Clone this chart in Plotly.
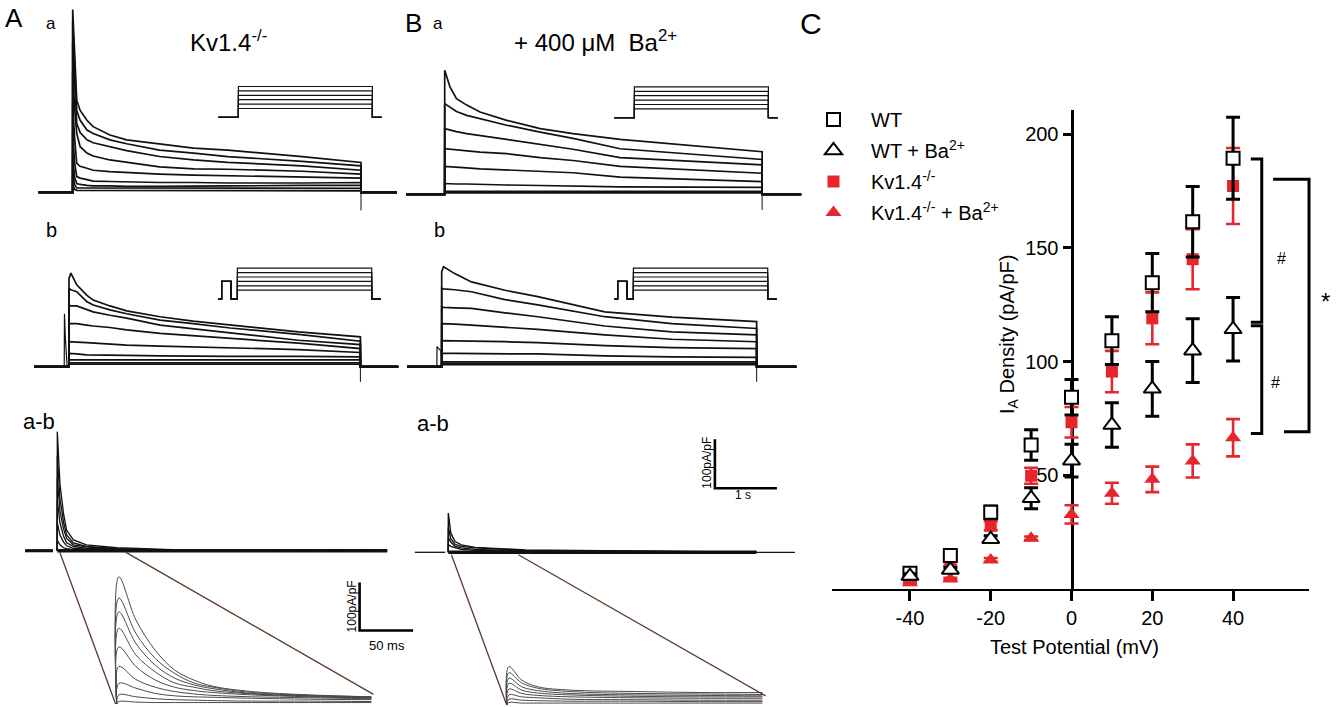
import plotly.graph_objects as go

W, H = 1343, 707
FONT = "Liberation Sans, Arial, Helvetica, sans-serif"
RED = "#E5262C"
INK = "#111111"
GREY = "#4a4a4a"
BROWN = "#5a3a2a"

# ---------------- Panel C : I_A density vs test potential ----------------
test_potential_mv = [-40, -30, -20, -10, 0, 10, 20, 30, 40]
wt_density = [6.9, 14.7, 33.7, 63.3, 84.3, 109.2, 134.7, 161.5, 189.4]
wt_sem = [1.0, 1.5, 2.8, 6.7, 7.8, 10.5, 12.8, 15.5, 18.0]
wt_ba_density = [5.7, 8.4, 21.9, 39.9, 56.4, 72.1, 88.0, 104.8, 114.2]
wt_ba_sem = [1.0, 1.0, 1.5, 4.6, 7.2, 9.8, 12.0, 14.0, 14.0]
kv14_density = [6.2, 11.3, 27.8, 49.8, 73.3, 95.6, 119.0, 145.0, 177.2]
kv14_sem = [1.0, 1.0, 2.0, 3.5, 6.7, 9.1, 11.4, 13.2, 16.7]
kv14_ba_density = [2.8, 4.4, 12.8, 22.3, 32.8, 42.1, 48.2, 56.3, 66.5]
kv14_ba_sem = [0.5, 0.5, 0.8, 0.8, 4.0, 4.6, 5.6, 7.3, 8.2]
x_tick_vals = [-40, -20, 0, 20, 40]
x_tick_text = ["-40", "-20", "0", "20", "40"]
y_tick_vals = [50, 100, 150, 200]

# ---------------- Current traces (time in s, current in pA/pF) ----------------
# A a : Kv1.4-/- , total outward current
aa_time = [0, 0.03, 0.065, 0.12, 0.23, 0.33, 0.6, 0.87, 1.4, 1.95, 2.5, 3.7, 4.65]
aa_current = [
    [373, 286, 188, 167, 147, 134, 117, 107, 99, 90, 86, 73, 61],
    [347, 255, 167, 147, 127, 120, 107, 99, 86, 80, 73, 63, 54],
    [306, 214, 141, 122, 107, 101, 93, 85, 73, 66, 61, 54, 45],
    [245, 173, 120, 93, 80, 74, 66, 61, 52, 48, 47, 43, 37],
    [184, 112, 59, 53, 49, 45, 42, 40, 37, 35, 34, 32, 29],
    [122, 61, 32, 29, 26, 23, 22, 21, 20, 20, 19, 19, 20],
    [71, 31, 18, 16, 14, 13, 13, 12, 12, 12, 13, 14, 14],
    [37, 16, 9, 9, 8, 8, 8, 8, 8, 8, 9, 9, 8],
    [16, 6, 4, 4, 3, 3, 3, 3, 3, 3, 4, 3, 3],
]
# A b : after inactivating prepulse
ab_time = [0, 0.03, 0.125, 0.285, 0.39, 0.66, 0.93, 1.47, 2.0, 2.6, 3.7, 4.7]
ab_current = [
    [180, 191, 167, 146, 136, 124, 114, 102, 93, 85, 71, 61],
    [160, 157, 153, 133, 126, 116, 108, 95, 88, 79, 66, 52],
    [126, 124, 124, 116, 112, 105, 99, 85, 78, 69, 54, 45],
    [88, 88, 88, 85, 83, 80, 75, 68, 63, 58, 48, 37],
    [51, 51, 50, 49, 48, 46, 44, 42, 40, 39, 35, 29],
    [27, 27, 26, 24, 24, 23, 23, 22, 21, 21, 21, 20],
    [14, 14, 14, 14, 14, 14, 14, 14, 14, 15, 14, 14],
    [8, 8, 8, 8, 8, 8, 8, 8, 8, 8, 8, 8],
    [5, 5, 5, 5, 5, 5, 5, 5, 5, 5, 5, 5],
]
ab_prepulse_time = [-0.077, -0.073, -0.06, -0.045, -0.03]
ab_prepulse_current = [0, 108, 61, 20, 0]
# A a-b : subtracted transient current
aab_time = [0, 0.043, 0.1, 0.15, 0.26, 0.47, 0.96, 1.86, 5.32]
aab_current = [
    [243, 136, 76, 42, 22, 12, 6, 2, 0],
    [194, 106, 59, 32, 16, 9, 4, 1, 0],
    [147, 81, 45, 25, 12, 8, 3, 1, 0],
    [102, 57, 30, 16, 9, 5, 2, 1, 0],
    [57, 32, 18, 10, 5, 3, 2, 0, 0],
    [21, 12, 6, 4, 2, 1, 1, 0, 0],
]
# A inset (time in ms)
ains_time_ms = [0, 2, 18, 36, 54, 72, 90, 126, 180, 238]
ains_current = [
    [0, 265, 175, 112, 71, 50, 37, 26, 19, 15],
    [0, 221, 147, 95, 64, 44, 35, 24, 18, 15],
    [0, 192, 126, 81, 54, 40, 32, 22, 17, 14],
    [0, 158, 102, 67, 44, 35, 28, 21, 16, 13],
    [0, 119, 78, 50, 35, 28, 24, 19, 15, 12],
    [0, 78, 51, 35, 26, 21, 18, 15, 13, 11],
    [0, 43, 33, 22, 17, 15, 14, 12, 10, 9],
    [0, 19, 15, 11, 9, 8, 7, 6, 6, 5],
    [0, 5, 4, 3, 3, 3, 3, 3, 3, 3],
]
# B a : + 400 uM Ba2+
ba_time = [0, 0.085, 0.19, 0.355, 0.57, 1.0, 1.54, 2.07, 2.83, 5.12]
ba_current = [
    [253, 219, 195, 182, 168, 151, 134, 124, 112, 87],
    [185, 178, 169, 161, 154, 141, 127, 114, 93, 71],
    [134, 131, 128, 124, 120, 112, 102, 92, 75, 60],
    [93, 92, 90, 88, 86, 83, 75, 69, 57, 43],
    [57, 56, 55, 54, 52, 50, 47, 44, 35, 26],
    [22, 21, 21, 21, 20, 19, 18, 17, 15, 14],
    [6, 6, 6, 6, 6, 6, 6, 6, 6, 6],
    [3, 3, 3, 3, 3, 3, 3, 3, 3, 3],
]
# B b
bb_time = [0, 0.03, 0.21, 0.48, 1.02, 1.55, 2.63, 3.71, 5.08]
bb_current = [
    [194, 204, 190, 173, 156, 143, 112, 101, 92],
    [160, 159, 157, 153, 137, 126, 102, 88, 78],
    [122, 121, 120, 119, 110, 102, 83, 71, 65],
    [88, 88, 87, 85, 81, 76, 65, 56, 51],
    [53, 53, 53, 52, 51, 49, 43, 39, 37],
    [26, 27, 27, 27, 27, 26, 22, 20, 19],
    [10, 10, 10, 10, 10, 10, 10, 10, 10],
    [7, 7, 7, 7, 7, 7, 7, 7, 7],
    [4, 4, 4, 4, 4, 4, 4, 4, 4],
]
bb_prepulse_time = [-0.078, -0.076, -0.04, -0.01, 0]
bb_prepulse_current = [0, 41, 36, 32, 0]
# B a-b
bab_time = [0, 0.04, 0.11, 0.21, 0.43, 1.24, 4.97]
bab_current = [
    [80, 39, 22, 15, 10, 5, 0],
    [51, 28, 16, 12, 9, 4, 0],
    [30, 21, 12, 9, 6, 3, 0],
    [16, 12, 9, 6, 4, 2, 0],
]
# B inset (time in ms)
bins_time_ms = [0, 2, 14, 29, 60, 121, 180, 239]
bins_current = [
    [0, 80, 52, 38, 31, 28, 26, 26],
    [0, 67, 46, 35, 28, 24, 23, 22],
    [0, 56, 38, 30, 24, 21, 20, 19],
    [0, 45, 31, 25, 21, 18, 17, 17],
    [0, 33, 24, 20, 17, 15, 14, 14],
    [0, 21, 17, 15, 12, 11, 10, 10],
    [0, 12, 10, 9, 8, 8, 7, 7],
    [0, 5, 4, 4, 4, 4, 4, 4],
]
end_artifact = [-37, -31, -32, -31]  # Aa, Ab, Ba, Bb tail artefact (pA/pF)

# ---------------- Voltage protocols (time in s, mV) ----------------
holding_mv = -80
prepulse_mv = -40
step_mv = [-60, -50, -40, -30, -20, -10]
protocol_a_time = [0, 0.6, 0.6, 4.6, 4.6, 4.88]
protocol_b_time = [0, 0.1, 0.1, 0.38, 0.38, 0.57, 0.57, 4.58, 4.58, 4.85]

# =====================================================================
fig = go.Figure()
layout_axes = {}


def fx(px):
    return px / W


def fy(py):
    return 1 - py / H


class Panel:
    def __init__(self, idx, box, origin, sx, sy):
        x0, x1, y0, y1 = box
        self.ox, self.oy = origin
        self.sx, self.sy = sx, sy
        self.xref = "x" if idx == 1 else f"x{idx}"
        self.yref = "y" if idx == 1 else f"y{idx}"
        xa = "xaxis" if idx == 1 else f"xaxis{idx}"
        ya = "yaxis" if idx == 1 else f"yaxis{idx}"
        layout_axes[xa] = dict(domain=[fx(x0), fx(x1)],
                               range=[(x0 - self.ox) / sx, (x1 - self.ox) / sx],
                               visible=False, fixedrange=True, anchor=self.yref)
        layout_axes[ya] = dict(domain=[fy(y1), fy(y0)],
                               range=[(self.oy - y1) / sy, (self.oy - y0) / sy],
                               visible=False, fixedrange=True, anchor=self.xref)

    def px(self, t):
        return self.ox + t * self.sx

    def py(self, v):
        return self.oy - v * self.sy

    def line(self, x, y, width=1.6, color=INK, shape="linear"):
        fig.add_trace(go.Scatter(x=x, y=y, xaxis=self.xref, yaxis=self.yref,
                                 mode="lines",
                                 line=dict(color=color, width=width, shape=shape),
                                 showlegend=False, hoverinfo="skip"))


S_PER = 62.0      # px per second
I_PER = 0.49      # px per pA/pF
MS_PER = 1.07     # inset px per ms
I_INS = 0.48      # inset px per pA/pF

pAa = Panel(2, (20, 405, 0, 212), (72.7, 192.3), S_PER, I_PER)
pAb = Panel(3, (20, 405, 212, 392), (69, 366.7), S_PER, I_PER)
pAab = Panel(4, (10, 405, 395, 565), (57.3, 550.7), S_PER, I_PER)
pAin = Panel(5, (100, 420, 560, 707), (116.7, 704), MS_PER, I_INS)
pBa = Panel(6, (400, 805, 0, 212), (444.7, 194.3), S_PER, I_PER)
pBb = Panel(7, (400, 805, 212, 392), (441.7, 366.7), S_PER, I_PER)
pBab = Panel(8, (400, 805, 395, 565), (448.3, 552.3), S_PER, I_PER)
pBin = Panel(9, (480, 805, 560, 707), (506.7, 705), MS_PER, I_INS)
V_PER = 0.44
pPAa = Panel(10, (205, 395, 70, 125), (218.3, 117.3 + holding_mv * V_PER), 33.5, V_PER)
pPAb = Panel(11, (205, 395, 255, 305), (218.3, 299 + holding_mv * V_PER), 33.5, V_PER)
pPBa = Panel(12, (600, 790, 70, 125), (614.3, 117.7 + holding_mv * V_PER), 33.5, V_PER)
pPBb = Panel(13, (600, 790, 255, 305), (614.3, 299 + holding_mv * V_PER), 33.5, V_PER)


def family(p, times, fam, t_pre, t_post, art, width=1.7):
    for vals in fam:
        p.line([t_pre, 0] + times + [times[-1], t_post], [0, 0] + vals + [0, 0], width)
    p.line([times[-1], times[-1]], [0, art], 1.0)


family(pAa, aa_time, aa_current, -0.55, 5.23, end_artifact[0])
family(pAb, ab_time, ab_current, -0.56, 5.31, end_artifact[1])
pAb.line(ab_prepulse_time, ab_prepulse_current, 1.2)
family(pBa, ba_time, ba_current, -0.62, 5.75, end_artifact[2])
family(pBb, bb_time, bb_current, -0.56, 5.72, end_artifact[3])
pBb.line(bb_prepulse_time, bb_prepulse_current, 1.2)

# a-b traces
pAab.line([-0.52, -0.07], [0, 0], 3.2)
pAab.line([0, aab_time[-1]], [0, 0], 3.6)
for vals in aab_current:
    pAab.line([0] + aab_time, [0] + vals, 1.3)
pBab.line([-0.54, -0.05], [0, 0], 1.3)
pBab.line([bab_time[-1], 5.59], [0, 0], 1.3)
pBab.line([0, bab_time[-1]], [0, 0], 3.4)
for vals in bab_current:
    pBab.line([0] + bab_time, [0] + vals, 1.4)

# insets
for vals in ains_current:
    pAin.line(ains_time_ms, vals, 1.0, GREY, "spline")
for vals in bins_current:
    pBin.line(bins_time_ms, vals, 1.0, GREY, "spline")

# voltage protocols
for p in (pPAa, pPBa):
    for v in step_mv:
        p.line(protocol_a_time, [holding_mv, holding_mv, v, v, holding_mv, holding_mv], 1.2)
for p in (pPAb, pPBb):
    for v in step_mv:
        p.line(protocol_b_time,
               [holding_mv, holding_mv, prepulse_mv, prepulse_mv, holding_mv,
                holding_mv, v, v, holding_mv, holding_mv], 1.2)

# scale bars
pAin.line([227, 227, 277], [253, 153, 153], 2.6, "black")
pBab.line([4.3, 4.3, 5.3], [230.6, 130.6, 130.6], 2.6, "black")

shapes = []
# zoom connector lines (from a-b trace to the expanded inset)
for (pa, ta, va), (pb, tb, vb) in [
    ((pAab, 0.04, -3), (pAin, -1, 0)),
    ((pAab, 1.10, -3), (pAin, 240, 20)),
    ((pBab, 0.05, -5), (pBin, 0, 0)),
    ((pBab, 1.13, -5), (pBin, 242, 19)),
]:
    shapes.append(dict(type="line", xref="paper", yref="paper",
                       x0=fx(pa.px(ta)), y0=fy(pa.py(va)),
                       x1=fx(pb.px(tb)), y1=fy(pb.py(vb)),
                       line=dict(color=BROWN, width=1.3)))

# ---------------- Panel C ----------------
C_X0, C_X1, C_YB, C_YT = 832, 1309, 589, 110
c_xrange = [-59.3, 58.8]
c_yrange = [0, 210.6]


def cpx(x):
    return C_X0 + (x - c_xrange[0]) / (c_xrange[1] - c_xrange[0]) * (C_X1 - C_X0)


def cpy(y):
    return C_YB - (y - c_yrange[0]) / (c_yrange[1] - c_yrange[0]) * (C_YB - C_YT)


# drawn red first so the black series sit on top; legend order via legendrank
series = [
    ("Kv1.4<sup>-/-</sup>", kv14_density, kv14_sem, "square", 12, RED, RED, RED, 3),
    ("Kv1.4<sup>-/-</sup> + Ba<sup>2+</sup>", kv14_ba_density, kv14_ba_sem, "triangle-up", 14, RED, RED, RED, 4),
    ("WT", wt_density, wt_sem, "square", 13, "white", "black", "black", 1),
    ("WT + Ba<sup>2+</sup>", wt_ba_density, wt_ba_sem, "triangle-up", 15, "white", "black", "black", 2),
]
for name, ys, es, sym, size, fill, edge, ecol, rank in series:
    fig.add_trace(go.Scatter(
        x=test_potential_mv, y=ys, name=name, mode="markers",
        marker=dict(symbol=sym, size=size, color=fill,
                    line=dict(color=edge, width=2 if fill == "white" else 0)),
        error_y=dict(type="data", array=es, color=ecol,
                     thickness=3 if ecol == "black" else 2.6, width=7),
        cliponaxis=False, legendgroup=name, legendrank=rank,
        hoverinfo="skip"))

layout_axes["xaxis"] = dict(
    domain=[fx(C_X0), fx(C_X1)], range=c_xrange, anchor="y",
    showline=True, linecolor="black", linewidth=2, showgrid=False, zeroline=False,
    tickmode="array", tickvals=x_tick_vals, ticktext=x_tick_text,
    ticks="outside", ticklen=10, tickwidth=3,
    tickcolor="black", tickfont=dict(size=20, color="black", family=FONT),
    layer="below traces", fixedrange=True)
layout_axes["yaxis"] = dict(
    domain=[fy(C_YB), fy(C_YT)], range=c_yrange, anchor="free", position=fx(cpx(0)),
    showline=True, linecolor="black", linewidth=3, showgrid=False, zeroline=False,
    tickmode="array", tickvals=y_tick_vals, ticks="outside", ticklen=8, tickwidth=3,
    tickcolor="black", tickfont=dict(size=20, color="black", family=FONT),
    layer="below traces", fixedrange=True)

# significance brackets
brackets = [  # y_top, y_bottom, x_top_arm, x_bottom_arm, x_vertical, label, label_x, label_y, size
    (189.1, 117.3, 44.4, 44.4, 47.1, "#", 51.9, 145.1, 16),
    (115.7, 68.4, 44.4, 44.4, 47.1, "#", 50.6, 91.0, 16),
    (180.2, 69.1, 49.9, 52.6, 58.8, "*", 62.8, 126.2, 24),
]
annotations = []
for yt, yb, xa, xb, xv, lab, lx, ly, ls in brackets:
    path = (f"M {fx(cpx(xa))},{fy(cpy(yt))} L {fx(cpx(xv))},{fy(cpy(yt))} "
            f"L {fx(cpx(xv))},{fy(cpy(yb))} L {fx(cpx(xb))},{fy(cpy(yb))}")
    shapes.append(dict(type="path", xref="paper", yref="paper", path=path,
                       line=dict(color="black", width=3)))
    annotations.append(dict(text=lab, x=fx(cpx(lx)), y=fy(cpy(ly)), xref="paper", yref="paper",
                            showarrow=False, font=dict(size=ls, color="black", family=FONT),
                            xanchor="center", yanchor="middle"))

texts = [
    ("A", 14, 18, 26, 0), ("a", 50.5, 23, 17, 0), ("Kv1.4<sup>-/-</sup>", 228, 41, 24, 0),
    ("B", 413, 23, 26, 0), ("a", 438, 24, 17, 0),
    ("+ 400 \u03bcM\u00a0 Ba<sup>2+</sup>", 595, 41, 24, 0),
    ("b", 51, 230, 20, 0), ("b", 439, 230, 20, 0),
    ("a-b", 39, 422, 22, 0), ("a-b", 433, 423, 22, 0),
    ("C", 811, 23, 30, 0),
    ("100pA/pF", 351.7, 606.7, 12, -90), ("50 ms", 387, 645, 13, 0),
    ("100pA/pF", 706.7, 463, 12, -90), ("1 s", 743, 495, 12, 0),
    ("I<sub>A</sub> Density (pA/pF)", 1008, 334, 20, -90),
    ("Test Potential (mV)", 1074, 647, 20, 0),
]
for t, x, y, s, ang in texts:
    annotations.append(dict(text=t, x=fx(x), y=fy(y), xref="paper", yref="paper",
                            showarrow=False, textangle=ang,
                            font=dict(size=s, color="black", family=FONT),
                            xanchor="center", yanchor="middle"))

fig.update_layout(
    width=W, height=H, margin=dict(l=0, r=0, t=0, b=0, pad=0),
    paper_bgcolor="white", plot_bgcolor="rgba(0,0,0,0)",
    font=dict(family=FONT, color="black"),
    showlegend=True,
    legend=dict(x=fx(796), y=fy(100), xanchor="left", yanchor="top",
                font=dict(size=20, color="black", family=FONT),
                bgcolor="rgba(0,0,0,0)", traceorder="grouped", tracegroupgap=2,
                itemwidth=65),
    shapes=shapes, annotations=annotations,
    **layout_axes,
)

fig.write_html("out.html", config={"displayModeBar": False},
               post_script="document.body.style.margin='0px';document.body.style.padding='0px';")
